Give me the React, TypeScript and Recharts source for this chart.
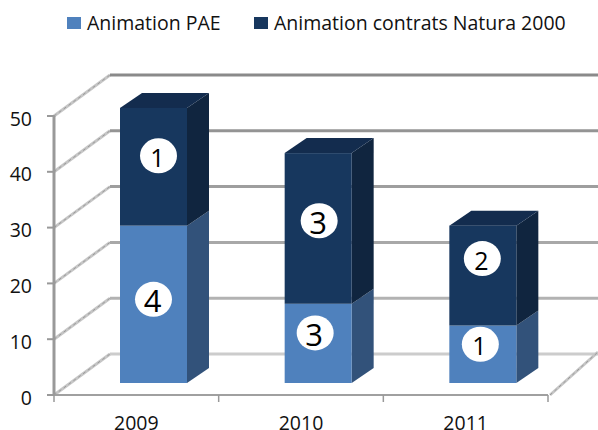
import React from "react";
import { BarChart, Bar, XAxis, YAxis, CartesianGrid, Legend, LabelList } from "recharts";

const categories = ["2009", "2010", "2011"];
const paeValues = [28.2, 14.2, 10.3];
const naturaValues = [21.1, 27, 17.9];
const paeCounts = [4, 3, 1];
const naturaCounts = [1, 3, 2];
const yTicks = [0, 10, 20, 30, 40, 50];

const rows = categories.map((year, i) => ({
  year,
  pae: paeValues[i],
  natura: naturaValues[i],
  paeCount: paeCounts[i],
  naturaCount: naturaCounts[i],
}));

const FONT = "'Open Sans', sans-serif";
const TEXT = "#111";
const WALL_DX = 56;
const WALL_DY = 41;
const BAR_DX = 17;
const BAR_DY = 12;
const DEPTH_X = 22;
const DEPTH_Y = 15;
const BAND = 494 / 3;

const paeLabelLayout = [
  { dx: 17, dy: -17, size: 31 },
  { dx: 14, dy: -22.5, size: 31 },
  { dx: 14.5, dy: -22, size: 25 },
];
const naturaLabelLayout = [
  { dx: 22, dy: -23, size: 25 },
  { dx: 18, dy: -19.7, size: 31 },
  { dx: 16.5, dy: -29, size: 25 },
];

function Diagonal({ x1, y1, x2, y2 }: any) {
  return (
    <g>
      <line x1={x1} y1={y1} x2={x2} y2={y2} stroke="#c6c6c6" strokeWidth={3} />
      <line x1={x1} y1={y1} x2={x2} y2={y2} stroke="#999" strokeWidth={1} strokeDasharray="3 3" />
    </g>
  );
}

function gridLine(props: any) {
  const { x1, x2, y1 } = props;
  const t = Math.max(0, Math.min(1, (y1 - 116) / 279));
  const shade = Math.round(t < 0.8 ? 138 + t * 50 : 178 + (t - 0.8) * 130);
  const backY = y1 - WALL_DY;
  const isFloor = t > 0.99;
  return (
    <g key={props.key ?? y1}>
      <Diagonal x1={x1} y1={y1} x2={x1 + WALL_DX} y2={backY} />
      <line
        x1={x1 + WALL_DX}
        y1={backY}
        x2={598}
        y2={backY}
        stroke={`rgb(${shade},${shade},${shade})`}
        strokeWidth={3}
      />
      {isFloor ? <Diagonal x1={x2 + 2} y1={y1} x2={598} y2={backY - 2} /> : null}
    </g>
  );
}

function box(side: string, top: string | null) {
  return (props: any) => {
    const { x, y, width, height, fill } = props;
    const l = x + BAR_DX;
    const r = l + width;
    const t = y - BAR_DY;
    const b = t + height;
    return (
      <g>
        <polygon
          points={`${r},${t} ${r + DEPTH_X},${t - DEPTH_Y} ${r + DEPTH_X},${b - DEPTH_Y} ${r},${b}`}
          fill={side}
        />
        {top ? (
          <polygon
            points={`${l},${t} ${l + DEPTH_X},${t - DEPTH_Y} ${r + DEPTH_X},${t - DEPTH_Y} ${r},${t}`}
            fill={top}
          />
        ) : null}
        <rect x={l} y={t} width={width} height={height} fill={fill} />
      </g>
    );
  };
}

function bubble(layout: { dx: number; dy: number; size: number }[]) {
  return (props: any) => {
    const { x, y, width, height, value, index } = props;
    const s = layout[index];
    const cx = x + width / 2 + s.dx;
    const cy = y + height / 2 + s.dy;
    return (
      <g>
        <ellipse cx={cx} cy={cy} rx={18.5} ry={17.5} fill="#fff" />
        <text
          x={cx - 1}
          y={cy + 1}
          textAnchor="middle"
          dominantBaseline="central"
          fontFamily="'Open Sans', sans-serif"
          fontWeight={400}
          fontSize={s.size}
          fill="#000"
        >
          {value}
        </text>
      </g>
    );
  };
}

function CategoryTick(props: any) {
  const { x, y, payload, index } = props;
  const left = x - BAND / 2;
  const right = x + BAND / 2;
  return (
    <g>
      <line x1={left} y1={395} x2={left} y2={402} stroke="#999" strokeWidth={1.5} />
      {index === categories.length - 1 ? (
        <line x1={right} y1={395} x2={right} y2={402} stroke="#999" strokeWidth={1.5} />
      ) : null}
      <text x={x} y={y + 27} textAnchor="middle" fontFamily={FONT} fontSize={19.5} fill={TEXT}>
        {payload.value}
      </text>
    </g>
  );
}

function ValueTick(props: any) {
  const { x, y, payload } = props;
  return (
    <text
      x={x}
      y={y + 2}
      textAnchor="end"
      dominantBaseline="central"
      fontFamily={FONT}
      fontSize={19.5}
      fill={TEXT}
    >
      {payload.value}
    </text>
  );
}

function LegendRow({ payload }: any) {
  const lefts = [67, 254];
  return (
    <div style={{ position: "relative", width: 598, height: 40 }}>
      {(payload || []).map((p: any, i: number) => (
        <div key={p.value} style={{ position: "absolute", left: lefts[i], top: 0 }}>
          <span
            style={{
              position: "absolute",
              left: 0,
              top: 17,
              width: 14,
              height: 12,
              background: p.color,
            }}
          />
          <span
            style={{
              position: "absolute",
              left: 20,
              top: 10,
              whiteSpace: "nowrap",
              fontFamily: FONT,
              fontSize: 19.5,
              lineHeight: "26px",
              color: TEXT,
            }}
          >
            {p.value}
          </span>
        </div>
      ))}
    </div>
  );
}

export default function App() {
  return (
    <div style={{ position: "absolute", left: 0, top: 0, width: 598, height: 430 }}>
      <BarChart
        width={598}
        height={430}
        data={rows}
        barSize={67}
        margin={{ top: 76, right: 50, bottom: 0, left: 0 }}
      >
        <CartesianGrid vertical={false} horizontal={gridLine} />
        <XAxis
          dataKey="year"
          height={35}
          tickLine={false}
          axisLine={{ stroke: "#a0a0a0", strokeWidth: 2 }}
          tick={<CategoryTick />}
          interval={0}
        />
        <YAxis
          width={54}
          domain={[0, 50]}
          ticks={yTicks}
          interval={0}
          tickSize={7}
          tickMargin={15}
          axisLine={{ stroke: "#999", strokeWidth: 3 }}
          tickLine={{ stroke: "#999", strokeWidth: 2 }}
          tick={<ValueTick />}
        />
        <Legend verticalAlign="top" align="left" content={<LegendRow />} wrapperStyle={{ top: 0, left: 0 }} />
        <Bar
          dataKey="pae"
          name="Animation PAE"
          stackId="a"
          fill="#4f81bd"
          isAnimationActive={false}
          shape={box("#32527a", null)}
        >
          <LabelList dataKey="paeCount" content={bubble(paeLabelLayout)} />
        </Bar>
        <Bar
          dataKey="natura"
          name="Animation contrats Natura 2000"
          stackId="a"
          fill="#17375e"
          isAnimationActive={false}
          shape={box("#10253f", "#132c4e")}
        >
          <LabelList dataKey="naturaCount" content={bubble(naturaLabelLayout)} />
        </Bar>
      </BarChart>
    </div>
  );
}
